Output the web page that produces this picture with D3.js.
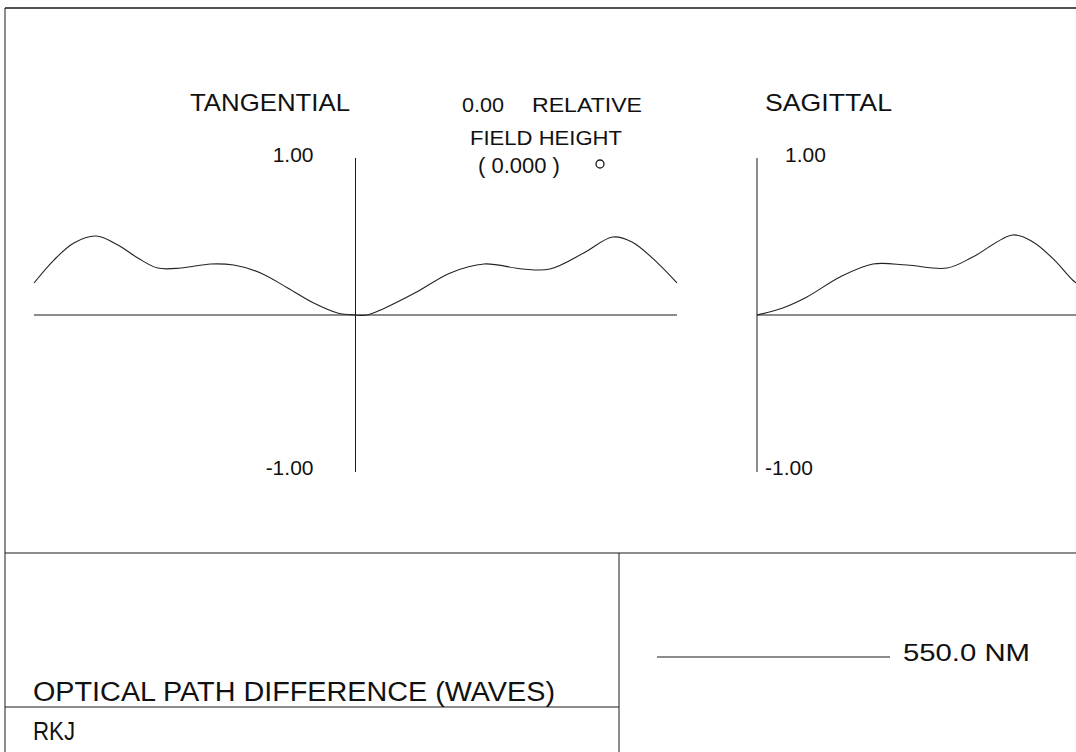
<!DOCTYPE html>
<html>
<head>
<meta charset="utf-8">
<script src="https://cdn.jsdelivr.net/npm/d3@7"></script>
<style>
  html, body { margin: 0; padding: 0; background: #fff; }
  svg { display: block; }
  text { font-family: "Liberation Sans", Arial, sans-serif; fill: #111; }
</style>
</head>
<body>
<svg id="chart" width="1076" height="752"></svg>
<script>
// OPD fan, on-axis field point, 550 nm
const tangentialPupil = [-1.0, -0.938, -0.876, -0.807, -0.739, -0.677, -0.615, -0.543, -0.45, -0.379, -0.295, -0.211, -0.13, -0.056, 0,
                          0.037, 0.087, 0.19, 0.295, 0.40, 0.52, 0.605, 0.71, 0.80, 0.86, 0.94, 1.0];
const tangentialOPD   = [0.204, 0.35, 0.459, 0.503, 0.446, 0.363, 0.299, 0.299, 0.325, 0.318, 0.268, 0.172, 0.076, 0.013, 0,
                          0.0, 0.04, 0.146, 0.268, 0.325, 0.293, 0.293, 0.395, 0.497, 0.465, 0.331, 0.204];
const sagittalPupil   = [0, 0.08, 0.155, 0.258, 0.36, 0.466, 0.59, 0.67, 0.795, 0.857, 0.92, 0.98, 1.0];
const sagittalOPD     = [0, 0.045, 0.115, 0.242, 0.325, 0.318, 0.299, 0.369, 0.510, 0.465, 0.357, 0.223, 0.19];
const scaleTickLabels = ["1.00", "-1.00"];
const scaleTickValues = [1, -1];
const wavelengthLabel = "550.0 NM";

const svg = d3.select("#chart");
const ink = "#1a1a1a";

// Frame
svg.append("line").attr("x1", 5).attr("y1", 8).attr("x2", 1076).attr("y2", 8)
  .attr("stroke", ink).attr("stroke-width", 1.4);
svg.append("line").attr("x1", 5).attr("y1", 8).attr("x2", 5).attr("y2", 752)
  .attr("stroke", ink).attr("stroke-width", 1);
svg.append("line").attr("x1", 5).attr("y1", 553).attr("x2", 1076).attr("y2", 553)
  .attr("stroke", ink).attr("stroke-width", 1.2);
svg.append("line").attr("x1", 619).attr("y1", 553).attr("x2", 619).attr("y2", 752)
  .attr("stroke", ink).attr("stroke-width", 1);
svg.append("line").attr("x1", 5).attr("y1", 707).attr("x2", 619).attr("y2", 707)
  .attr("stroke", ink).attr("stroke-width", 1.2);

// Scales
const y = d3.scaleLinear().domain([-1, 1]).range([472, 158]);
const xT = d3.scaleLinear().domain([-1, 1]).range([34, 677]);
const xS = d3.scaleLinear().domain([0, 1]).range([757, 1079]);

// Axes
svg.append("line").attr("x1", xT(0)).attr("x2", xT(0)).attr("y1", y(1)).attr("y2", y(-1))
  .attr("stroke", ink).attr("stroke-width", 1);
svg.append("line").attr("x1", xT(-1)).attr("x2", xT(1)).attr("y1", y(0)).attr("y2", y(0))
  .attr("stroke", ink).attr("stroke-width", 1.2);
svg.append("line").attr("x1", xS(0)).attr("x2", xS(0)).attr("y1", y(-1)).attr("y2", y(1))
  .attr("stroke", ink).attr("stroke-width", 1);
svg.append("line").attr("x1", xS(0)).attr("x2", 1076).attr("y1", y(0)).attr("y2", y(0))
  .attr("stroke", ink).attr("stroke-width", 1.2);

// Scale labels
scaleTickValues.forEach((v, i) => {
  svg.append("text").attr("x", xT(0) - 42).attr("y", y(v) + (v > 0 ? 4 : 3))
    .attr("text-anchor", "end").attr("font-size", 21).text(scaleTickLabels[i]);
  svg.append("text").attr("x", xS(0) + (v > 0 ? 28 : 8)).attr("y", y(v) + (v > 0 ? 4 : 3))
    .attr("text-anchor", "start").attr("font-size", 21).text(scaleTickLabels[i]);
});

// Curves
const lineT = d3.line().x((d, i) => xT(tangentialPupil[i])).y(d => y(d)).curve(d3.curveCatmullRom.alpha(0.5));
const lineS = d3.line().x((d, i) => xS(sagittalPupil[i])).y(d => y(d)).curve(d3.curveCatmullRom.alpha(0.5));
svg.append("path").attr("d", lineT(tangentialOPD)).attr("fill", "none")
  .attr("stroke", "#222").attr("stroke-width", 1.1);
svg.append("path").attr("d", lineS(sagittalOPD)).attr("fill", "none")
  .attr("stroke", "#222").attr("stroke-width", 1.1);

// Titles
svg.append("text").attr("x", 190).attr("y", 111).attr("font-size", 24)
  .attr("textLength", 160).attr("lengthAdjust", "spacingAndGlyphs").text("TANGENTIAL");
svg.append("text").attr("x", 765).attr("y", 111).attr("font-size", 24)
  .attr("textLength", 127).attr("lengthAdjust", "spacingAndGlyphs").text("SAGITTAL");
svg.append("text").attr("x", 462).attr("y", 112).attr("font-size", 21)
  .attr("textLength", 42).attr("lengthAdjust", "spacingAndGlyphs").text("0.00");
svg.append("text").attr("x", 532).attr("y", 112).attr("font-size", 21)
  .attr("textLength", 110).attr("lengthAdjust", "spacingAndGlyphs").text("RELATIVE");
svg.append("text").attr("x", 470).attr("y", 145).attr("font-size", 21)
  .attr("textLength", 152).attr("lengthAdjust", "spacingAndGlyphs").text("FIELD HEIGHT");
svg.append("text").attr("x", 478).attr("y", 173).attr("font-size", 22)
  .attr("xml:space", "preserve").text("( 0.000 )");
svg.append("circle").attr("cx", 600).attr("cy", 164).attr("r", 4)
  .attr("fill", "none").attr("stroke", ink).attr("stroke-width", 1.3);

// Bottom panel
svg.append("text").attr("x", 33).attr("y", 701).attr("font-size", 27)
  .attr("font-family", "'Liberation Sans Narrow', 'Liberation Sans', Arial, sans-serif")
  .attr("textLength", 522).attr("lengthAdjust", "spacingAndGlyphs")
  .text("OPTICAL PATH DIFFERENCE (WAVES)");
svg.append("text").attr("x", 33).attr("y", 740).attr("font-size", 25)
  .attr("font-family", "'Liberation Sans Narrow', 'Liberation Sans', Arial, sans-serif")
  .attr("textLength", 42).attr("lengthAdjust", "spacingAndGlyphs").text("RKJ");

// Wavelength key
svg.append("line").attr("x1", 657).attr("x2", 890).attr("y1", 657).attr("y2", 657)
  .attr("stroke", ink).attr("stroke-width", 1.2);
svg.append("text").attr("x", 903).attr("y", 661).attr("font-size", 24)
  .attr("font-family", "'Liberation Sans Narrow', 'Liberation Sans', Arial, sans-serif")
  .attr("textLength", 127).attr("lengthAdjust", "spacingAndGlyphs").text(wavelengthLabel);
</script>
</body>
</html>
